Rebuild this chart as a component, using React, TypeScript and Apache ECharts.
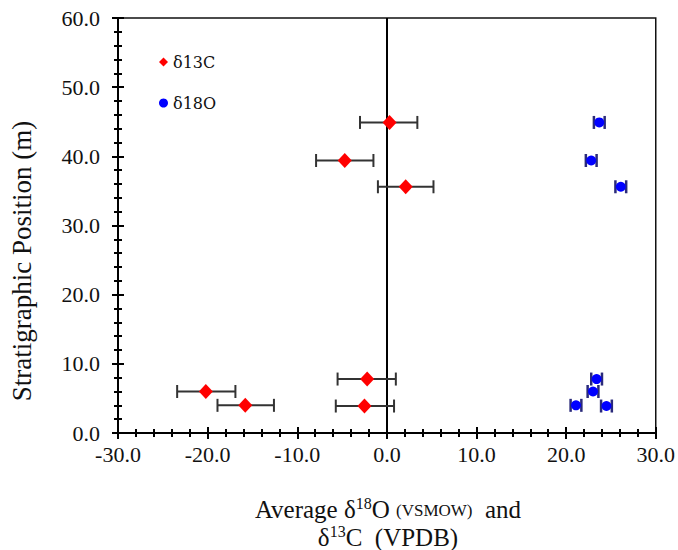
import React, { useEffect, useRef } from "react";
import * as echarts from "echarts";

const depths = [44.9, 39.4, 35.6, 7.8, 6.0, 4.0, 3.9];
const d13C = [0.3, -4.7, 2.1, -2.2, -20.2, -15.8, -2.5];
const d13CLow = [-3.0, -7.9, -1.0, -5.5, -23.4, -18.9, -5.7];
const d13CHigh = [3.4, -1.5, 5.2, 1.0, -16.9, -12.6, 0.8];
const d18O = [23.7, 22.8, 26.1, 23.4, 23.0, 21.1, 24.5];
const d18OLow = [23.1, 22.2, 25.5, 22.8, 22.4, 20.5, 23.9];
const d18OHigh = [24.3, 23.4, 26.7, 24.0, 23.6, 21.7, 25.1];
const seriesNames = ["δ13C", "δ18O"];

const serif = "'Liberation Serif', 'Times New Roman', serif";

function errorBars(color: string, width: number, cap: number) {
  return (params: any, api: any) => {
    const y = api.value(0);
    const lo = api.coord([api.value(1), y]);
    const hi = api.coord([api.value(2), y]);
    const style = { stroke: color, lineWidth: width };
    return {
      type: "group",
      children: [
        { type: "line", shape: { x1: lo[0], y1: lo[1], x2: hi[0], y2: hi[1] }, style },
        { type: "line", shape: { x1: lo[0], y1: lo[1] - cap, x2: lo[0], y2: lo[1] + cap }, style },
        { type: "line", shape: { x1: hi[0], y1: hi[1] - cap, x2: hi[0], y2: hi[1] + cap }, style },
      ],
    };
  };
}

export default function App() {
  const ref = useRef<HTMLDivElement>(null);
  useEffect(() => {
    if (!ref.current) return;
    const chart = echarts.init(ref.current, undefined, { renderer: "svg" });
    const axisLine = { show: true, onZero: false, lineStyle: { color: "#000", width: 2 } };
    const minorTick = { show: true, splitNumber: 5, length: 4, lineStyle: { color: "#000", width: 2 } };
    const xBase = {
      type: "value",
      min: -30,
      max: 30,
      interval: 10,
      splitLine: { show: false },
      axisLine,
      minorTick,
    };
    const yBase = {
      type: "value",
      min: 0,
      max: 60,
      interval: 10,
      splitLine: { show: false },
      axisLine,
      minorTick,
    };
    chart.setOption({
      animation: false,
      grid: {
        left: 118,
        right: 21,
        top: 18,
        bottom: 117,
        show: true,
        borderColor: "#111",
        borderWidth: 1.5,
        backgroundColor: "transparent",
      },
      legend: {
        data: seriesNames,
        orient: "vertical",
        left: 154,
        top: 49,
        itemGap: 25,
        itemWidth: 9,
        itemHeight: 9,
        textStyle: { fontFamily: "'DejaVu Serif', serif", fontSize: 16, color: "#111" },
        selectedMode: false,
      },
      xAxis: [
        {
          ...xBase,
          position: "bottom",
          axisTick: { show: true, inside: false, length: 6, lineStyle: { color: "#000", width: 2 } },
          axisLabel: {
            show: true,
            formatter: (v: number) => v.toFixed(1),
            fontFamily: serif,
            fontSize: 22,
            color: "#111",
            margin: 10,
          },
        },
        {
          ...xBase,
          position: "bottom",
          offset: 0,
          axisTick: { show: true, inside: true, length: 6, lineStyle: { color: "#000", width: 2 } },
          axisLabel: { show: false },
        },
      ],
      yAxis: [
        {
          ...yBase,
          position: "left",
          axisTick: { show: true, inside: false, length: 6, lineStyle: { color: "#000", width: 2 } },
          axisLabel: {
            show: true,
            formatter: (v: number) => v.toFixed(1),
            fontFamily: serif,
            fontSize: 22,
            color: "#111",
            margin: 18,
          },
        },
        {
          ...yBase,
          position: "left",
          offset: 0,
          axisTick: { show: true, inside: true, length: 6, lineStyle: { color: "#000", width: 2 } },
          axisLabel: { show: false },
        },
      ],
      graphic: [
        {
          type: "text",
          x: 22,
          y: 261,
          rotation: Math.PI / 2,
          style: {
            text: "Stratigraphic Position (m)",
            fontFamily: serif,
            fontSize: 27,
            fill: "#111",
            align: "center",
            verticalAlign: "middle",
          },
        },
        {
          type: "text",
          x: 388,
          y: 523,
          style: {
            text:
              "{a|Average δ}{sup|18}{a|O }{s|(VSMOW)}{a|  and}\n{a|δ}{sup|13}{a|C  (VPDB)}",
            align: "center",
            verticalAlign: "middle",
            fill: "#111",
            rich: {
              a: { fontFamily: serif, fontSize: 25, lineHeight: 28, fill: "#111" },
              s: { fontFamily: serif, fontSize: 17, lineHeight: 20, padding: [3, 0, 0, 0], fill: "#111" },
              sup: {
                fontFamily: serif,
                fontSize: 16,
                lineHeight: 28,
                verticalAlign: "top",
                fill: "#111",
              },
            },
          },
        },
      ],
      series: [
        {
          type: "custom",
          name: "err13",
          xAxisIndex: 0,
          yAxisIndex: 0,
          z: 2,
          renderItem: errorBars("#333", 2, 6.5),
          encode: { x: [1, 2], y: 0 },
          data: depths.map((d, i) => [d, d13CLow[i], d13CHigh[i]]),
        },
        {
          type: "custom",
          name: "err18",
          xAxisIndex: 0,
          yAxisIndex: 0,
          z: 2,
          renderItem: errorBars("#2a2a7a", 2.5, 6.5),
          encode: { x: [1, 2], y: 0 },
          data: depths.map((d, i) => [d, d18OLow[i], d18OHigh[i]]),
        },
        {
          type: "scatter",
          name: seriesNames[0],
          xAxisIndex: 0,
          yAxisIndex: 0,
          z: 3,
          symbol: "diamond",
          symbolSize: [14, 15],
          itemStyle: { color: "#ff0000", opacity: 1 },
          data: depths.map((d, i) => [d13C[i], d]),
          markLine: {
            silent: true,
            symbol: ["none", "none"],
            label: { show: false },
            lineStyle: { color: "#000", width: 2, type: "solid" },
            data: [{ xAxis: 0 }],
            z: 1,
          },
        },
        {
          type: "scatter",
          name: seriesNames[1],
          xAxisIndex: 0,
          yAxisIndex: 0,
          z: 3,
          symbol: "circle",
          symbolSize: 10,
          itemStyle: { color: "#0000ff", opacity: 1 },
          data: depths.map((d, i) => [d18O[i], d]),
        },
      ],
    });
    return () => chart.dispose();
  }, []);
  return <div ref={ref} style={{ width: 678, height: 550, position: "absolute", left: 0, top: 0 }} />;
}
